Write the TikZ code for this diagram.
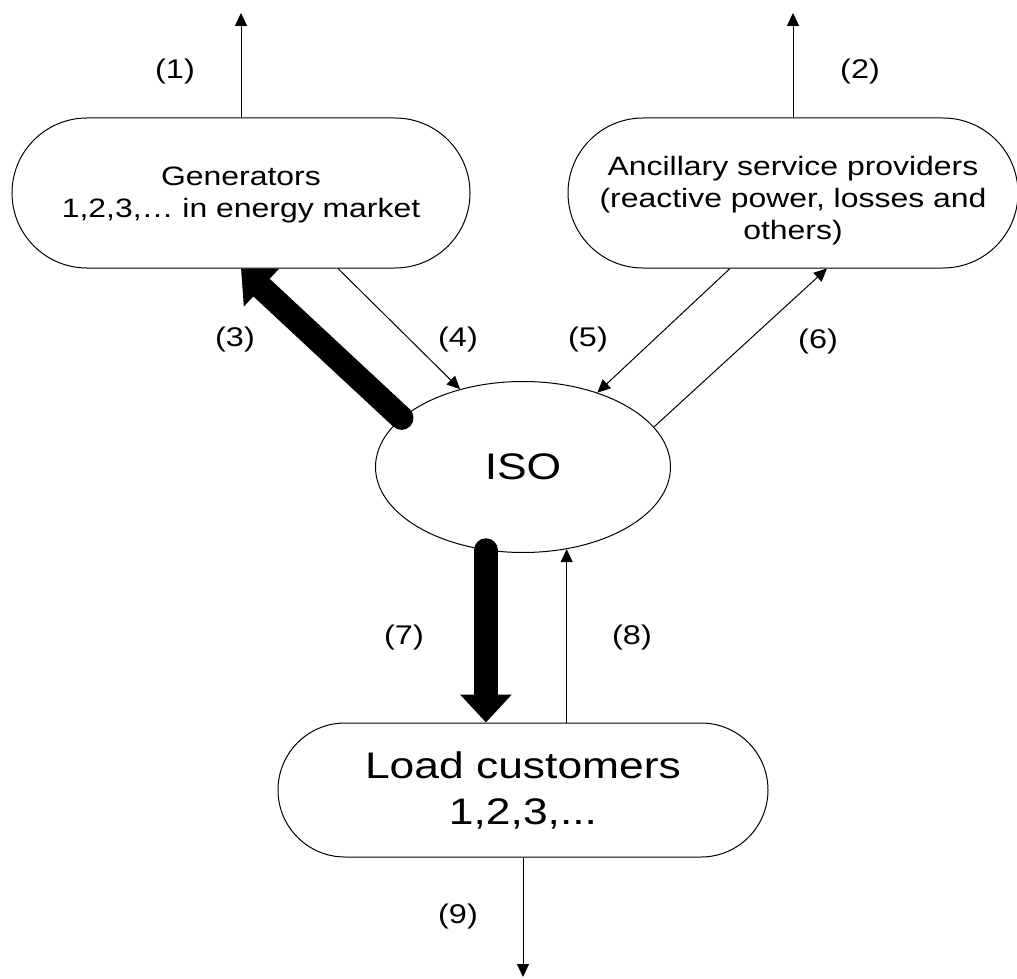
\documentclass[tikz,border=0pt]{standalone}
\usepackage{fontspec}
\setmainfont{Liberation Sans}[FakeStretch=1.2]
\usepackage{tikz}
\usetikzlibrary{positioning, shapes.misc, shapes.geometric, arrows.meta, calc}
\newcommand{\boxfont}{\fontsize{13.3}{16}\selectfont}
\newcommand{\bigfont}{\fontsize{18.5}{23}\selectfont}
\newcommand{\lblfont}{\fontsize{13.5}{16}\selectfont}

\begin{document}
\begin{tikzpicture}[x=0.5pt, y=-0.5pt,
	pillbox/.style={rounded rectangle, draw, line width=0.5pt, align=center, inner sep=0pt},
	isobox/.style={ellipse, draw, line width=0.5pt, inner sep=0pt, minimum width=147.5pt, minimum height=85.5pt},
	lbl/.style={font=\lblfont, inner sep=0pt},
	flow/.style={-{Triangle[length=6.5pt,width=6pt]}, line width=0.5pt},
	bigflow/.style={-{Triangle[length=14pt,width=25pt]}, line width=12pt, line cap=round}]
	\useasboundingbox[fill=white] (0,0) rectangle (1017,979);

	% the four parties
	\node[pillbox, font=\boxfont, minimum width=229pt, minimum height=75pt] (gen) at (241,193) {\rule{0pt}{11pt}Generators\\1,2,3,… in energy market};
	\node[pillbox, font=\boxfont, minimum width=225pt, minimum height=75pt] (anc) at (793,193) {\rule{0pt}{17pt}Ancillary service providers\\(reactive power, losses and\\others)};
	\node[isobox, font=\bigfont] (iso) at (523,467) {ISO};
	\node[pillbox, font=\bigfont, minimum width=245pt, minimum height=67pt] (load) at (523,790) {Load customers\\1,2,3,...};

	\coordinate (genout) at (241,13);
	\coordinate (ancout) at (793,13);
	\coordinate (loadout) at (523,977);

	% payments and flows
	\draw[flow] (gen.north) -- (genout);
	\draw[flow] (anc.north) -- (ancout);
	\draw[bigflow] (iso.158) -- (gen.south);
	\draw[flow] ($(gen.south)+(97,0)$) -- (iso.129);
	\draw[flow] ($(anc.south)+(-63,0)$) -- (iso.45);
	\draw[flow] (iso.17) -- ($(anc.south)+(34,0)$);
	\draw[bigflow] (iso.-114) -- (load.north -| iso.-114);
	\draw[flow] (load.north -| iso.-62) -- (iso.-62);
	\draw[flow] (load.south) -- (loadout);

	\node[lbl] (l1) at (175,72) {(1)};
	\node[lbl] (l2) at (860,72) {(2)};
	\node[lbl] (l3) at (235,340) {(3)};
	\node[lbl] (l4) at (458,340) {(4)};
	\node[lbl] (l5) at (588,340) {(5)};
	\node[lbl] (l6) at (818,342) {(6)};
	\node[lbl] (l7) at (404,638) {(7)};
	\node[lbl] (l8) at (632,638) {(8)};
	\node[lbl] (l9) at (458,917) {(9)};
\end{tikzpicture}
\end{document}
